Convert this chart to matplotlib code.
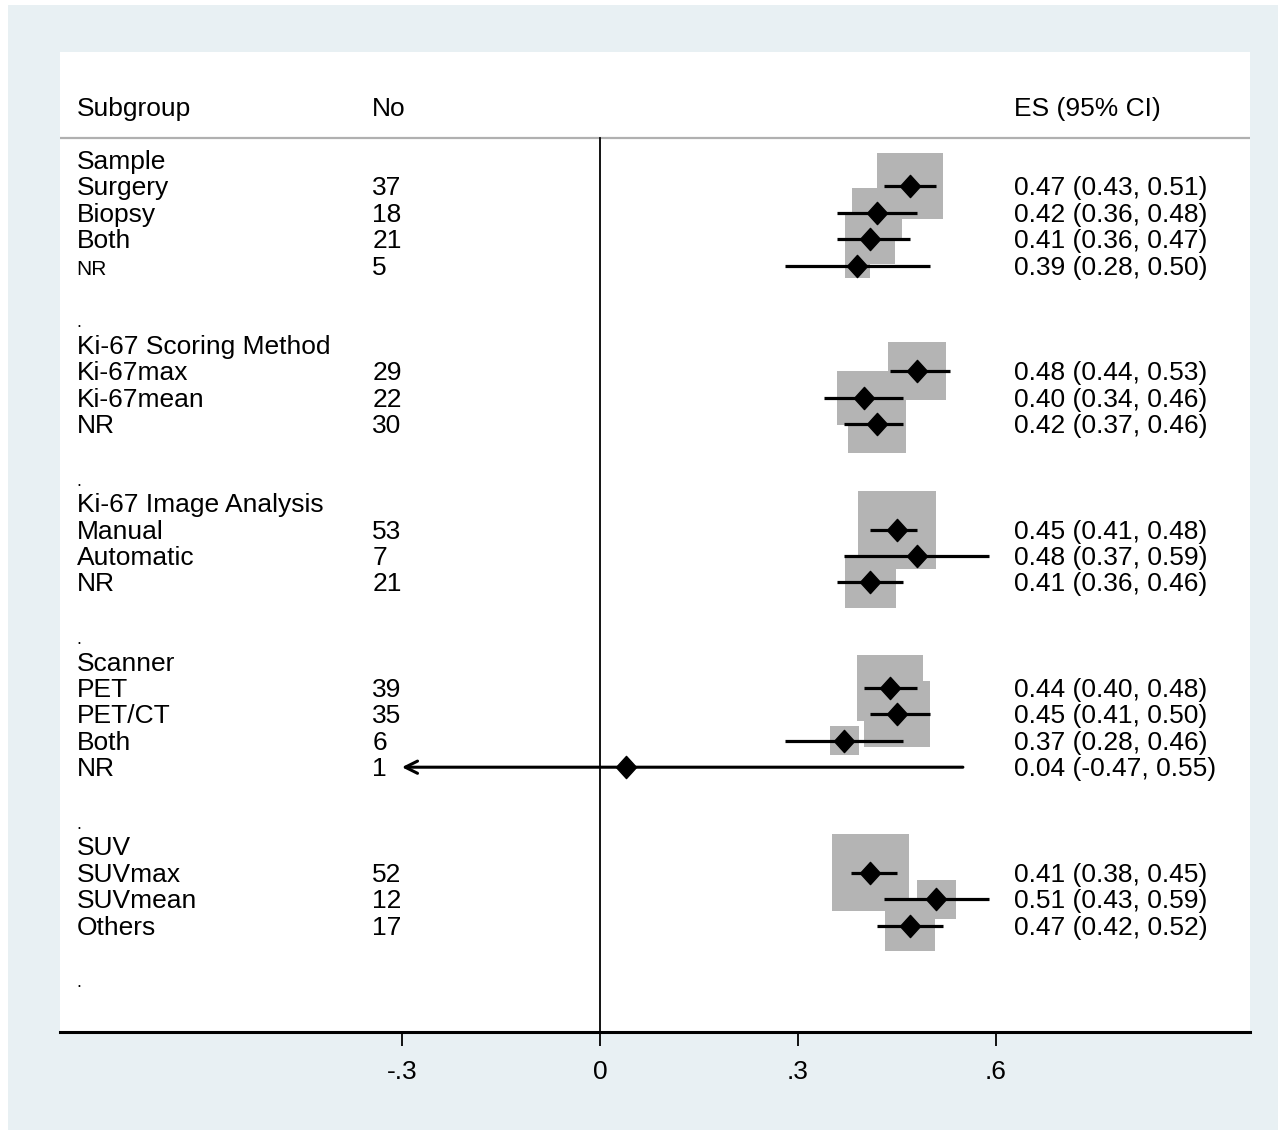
import numpy as np
import matplotlib.pyplot as plt
from matplotlib.patches import Rectangle
from matplotlib.path import Path

plt.rcParams['font.family'] = ['Liberation Sans', 'DejaVu Sans']

# rows of the forest plot, top to bottom ('' = blank row, '.' = spacer dot)
labels = ['Sample', 'Surgery', 'Biopsy', 'Both', 'NR', '', '.',
          'Ki-67 Scoring Method', 'Ki-67max', 'Ki-67mean', 'NR', '', '.',
          'Ki-67 Image Analysis', 'Manual', 'Automatic', 'NR', '', '.',
          'Scanner', 'PET', 'PET/CT', 'Both', 'NR', '', '.',
          'SUV', 'SUVmax', 'SUVmean', 'Others', '', '.']
nums = [None, 37, 18, 21, 5, None, None,
        None, 29, 22, 30, None, None,
        None, 53, 7, 21, None, None,
        None, 39, 35, 6, 1, None, None,
        None, 52, 12, 17, None, None]
es = [None, .47, .42, .41, .39, None, None,
      None, .48, .40, .42, None, None,
      None, .45, .48, .41, None, None,
      None, .44, .45, .37, .04, None, None,
      None, .41, .51, .47, None, None]
lo = [None, .43, .36, .36, .28, None, None,
      None, .44, .34, .37, None, None,
      None, .41, .37, .36, None, None,
      None, .40, .41, .28, -.47, None, None,
      None, .38, .43, .42, None, None]
hi = [None, .51, .48, .47, .50, None, None,
      None, .53, .46, .46, None, None,
      None, .48, .59, .46, None, None,
      None, .48, .50, .46, .55, None, None,
      None, .45, .59, .52, None, None]
# study weights (box area)
weights = [None, 43.6, 25, 25, 6.3, None, None,
           None, 33.6, 29.2, 33.6, None, None,
           None, 60.8, 2.6, 27, None, None,
           None, 43.6, 43.6, 8.4, 0.4, None, None,
           None, 59.3, 15.2, 25, None, None]

xticks = [-.3, 0, .3, .6]
xticklabels = ['-.3', '0', '.3', '.6']
xmin, xmax = -0.818, 0.985

fig = plt.figure(figsize=(12.82, 11.35), dpi=100, facecolor='white')
fig.add_artist(Rectangle((8/1282, 5/1135), 1270/1282, 1125/1135,
                         transform=fig.transFigure, facecolor='#e8f0f3',
                         edgecolor='none', zorder=-10))
ax = fig.add_axes([60/1282, 103/1135, 1190/1282, 980/1135])
ax.set_facecolor('white')
ax.set_xlim(xmin, xmax)
ax.set_ylim(33.03, -4.09)

diamond = Path([(0, 1.1), (1, 0), (0, -1.1), (-1, 0), (0, 1.1)],
               [Path.MOVETO, Path.LINETO, Path.LINETO, Path.LINETO, Path.CLOSEPOLY])

fs = 19
off = 0.34
xl, xn, xe = -0.793, -0.345, 0.627

# header
ax.text(xl, -2 + off, 'Subgroup', fontsize=fs, va='baseline')
ax.text(xn, -2 + off, 'No', fontsize=fs, va='baseline')
ax.text(xe, -2 + off, 'ES (95% CI)', fontsize=fs, va='baseline')
ax.axhline(-0.83, color='#b0b0b0', lw=1.6)

# zero line
ax.plot([0, 0], [-0.83, 33.03], color='black', lw=1.3, zorder=3)

y = np.arange(len(labels))
for i, lab in enumerate(labels):
    if lab == '.':
        ax.text(xl, i + off, '.', fontsize=13, va='baseline')
        continue
    if lab:
        size = 15 if (lab == 'NR' and i < 6) else fs
        ax.text(xl, i + off, lab, fontsize=size, va='baseline')
    if nums[i] is None:
        continue
    ax.text(xn, i + off, str(nums[i]), fontsize=fs, va='baseline')
    ax.text(xe, i + off, f'{es[i]:.2f} ({lo[i]:.2f}, {hi[i]:.2f})',
            fontsize=fs, va='baseline')

idx = [i for i in range(len(labels)) if es[i] is not None]
ax.scatter([es[i] for i in idx], [y[i] for i in idx],
           s=[51.84 * weights[i] for i in idx], marker='s',
           color='#b4b4b4', linewidths=0, zorder=2)

for i in idx:
    if lo[i] < -0.3:
        ax.annotate('', xy=(-0.3, y[i]), xytext=(hi[i], y[i]),
                    arrowprops=dict(arrowstyle='->', lw=2.2, color='black',
                                    mutation_scale=22, shrinkA=0, shrinkB=0),
                    zorder=4)
    else:
        ax.plot([lo[i], hi[i]], [y[i], y[i]], color='black', lw=2.3,
                solid_capstyle='butt', zorder=4)
ax.plot([es[i] for i in idx], [y[i] for i in idx], linestyle='none',
        marker=diamond, markersize=16, color='black', zorder=5)

for s in ['top', 'left', 'right']:
    ax.spines[s].set_visible(False)
ax.spines['bottom'].set_linewidth(2.2)
ax.set_yticks([])
ax.set_xticks(xticks)
ax.set_xticklabels(xticklabels)
ax.tick_params(axis='x', length=10, width=1.3, labelsize=19, pad=10)

fig.savefig('out.png', dpi=100, facecolor='white')
